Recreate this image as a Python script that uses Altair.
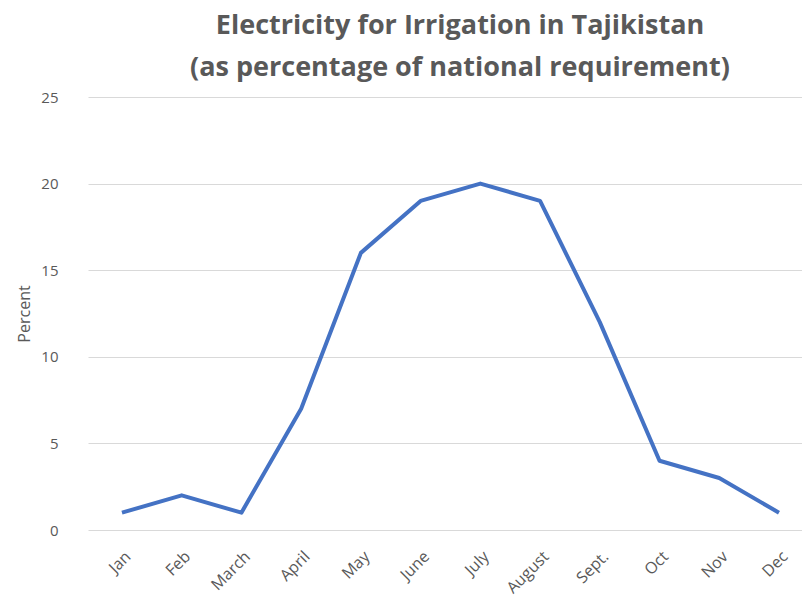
import altair as alt
import pandas as pd

months = ["Jan", "Feb", "March", "April", "May", "June", "July",
          "August", "Sept.", "Oct", "Nov", "Dec"]
percent = [1, 2, 1, 7, 16, 19, 20, 19, 12, 4, 3, 1]

df = pd.DataFrame({"month": months, "percent": percent})

FONT = "Open Sans"
GREY = "#595959"

chart = (
    alt.Chart(df)
    .mark_line(color="#4472C4", strokeWidth=4, strokeJoin="round")
    .encode(
        x=alt.X(
            "month:N",
            sort=months,
            title=None,
            scale=alt.Scale(type="point", padding=0.477, align=0.596),
            axis=alt.Axis(
                labelAngle=-45,
                labelAlign="right",
                labelBaseline="top",
                labelFont=FONT,
                labelFontSize=16,
                labelColor=GREY,
                labelPadding=18,
                labelOverlap=False,
                ticks=False,
                domain=False,
                grid=False,
            ),
        ),
        y=alt.Y(
            "percent:Q",
            title="Percent",
            scale=alt.Scale(domain=[0, 25]),
            axis=alt.Axis(
                values=[0, 5, 10, 15, 20, 25],
                labelFont=FONT,
                labelFontSize=15,
                labelColor=GREY,
                labelPadding=30,
                titleFont=FONT,
                titleFontSize=16,
                titleFontWeight="normal",
                titleColor=GREY,
                titlePadding=8,
                ticks=False,
                domain=False,
                gridColor="#d9d9d9",
                gridWidth=1,
            ),
        ),
    )
    .properties(
        width=714,
        height=433,
        background="white",
        title=alt.TitleParams(
            text=["Electricity for Irrigation in Tajikistan",
                  "(as percentage of national requirement)"],
            font=FONT,
            fontSize=27,
            fontWeight="bold",
            color=GREY,
            anchor="middle",
            lineHeight=42,
            offset=8,
            dx=15,
        ),
        autosize=alt.AutoSizeParams(type="none"),
        padding={"left": 88, "top": 97, "right": 0, "bottom": 71},
    )
    .configure_view(stroke=None, strokeWidth=0)
)

chart.save("out.html", embed_options={"renderer": "svg", "actions": False})
